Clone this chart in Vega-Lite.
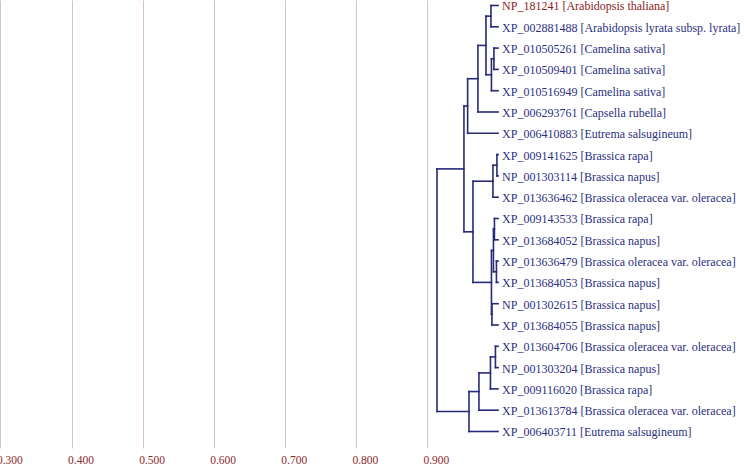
{
  "$schema": "https://vega.github.io/schema/vega-lite/v6.json",
  "width": 744,
  "height": 448,
  "autosize": {"type": "none"},
  "padding": {"left": 0, "top": 0, "right": 0, "bottom": 16},
  "background": "white",
  "config": {"view": {"stroke": null}},
  "datasets": {
    "segments": [
      {"x1": 0.99, "x2": 0.99, "y1": 0, "y2": 1},
      {"x1": 0.9942, "x2": 0.9942, "y1": 2, "y2": 3},
      {"x1": 0.9907, "x2": 0.9907, "y1": 2.5, "y2": 4},
      {"x1": 0.983, "x2": 0.983, "y1": 0.5, "y2": 3.25},
      {"x1": 0.9717, "x2": 0.9717, "y1": 1.875, "y2": 5},
      {"x1": 0.9572, "x2": 0.9572, "y1": 3.4375, "y2": 6},
      {"x1": 0.9984, "x2": 0.9984, "y1": 7, "y2": 8},
      {"x1": 0.9928, "x2": 0.9928, "y1": 7.5, "y2": 9},
      {"x1": 0.9949, "x2": 0.9949, "y1": 10, "y2": 11},
      {"x1": 0.9977, "x2": 0.9977, "y1": 12, "y2": 13},
      {"x1": 0.9935, "x2": 0.9935, "y1": 10.5, "y2": 12.5},
      {"x1": 0.9914, "x2": 0.9914, "y1": 14, "y2": 15},
      {"x1": 0.9907, "x2": 0.9907, "y1": 11.5, "y2": 14.5},
      {"x1": 0.9647, "x2": 0.9647, "y1": 8.25, "y2": 13},
      {"x1": 0.952, "x2": 0.952, "y1": 4.71875, "y2": 10.625},
      {"x1": 0.9963, "x2": 0.9963, "y1": 16, "y2": 17},
      {"x1": 0.9893, "x2": 0.9893, "y1": 16.5, "y2": 18},
      {"x1": 0.9731, "x2": 0.9731, "y1": 17.25, "y2": 19},
      {"x1": 0.9591, "x2": 0.9591, "y1": 18.125, "y2": 20},
      {"x1": 0.9141, "x2": 0.9141, "y1": 7.671875, "y2": 19.0625},
      {"x1": 0.99, "x2": 1, "y1": 0, "y2": 0},
      {"x1": 0.99, "x2": 1, "y1": 1, "y2": 1},
      {"x1": 0.9942, "x2": 1, "y1": 2, "y2": 2},
      {"x1": 0.9942, "x2": 1, "y1": 3, "y2": 3},
      {"x1": 0.9907, "x2": 0.9942, "y1": 2.5, "y2": 2.5},
      {"x1": 0.9907, "x2": 1, "y1": 4, "y2": 4},
      {"x1": 0.983, "x2": 0.99, "y1": 0.5, "y2": 0.5},
      {"x1": 0.983, "x2": 0.9907, "y1": 3.25, "y2": 3.25},
      {"x1": 0.9717, "x2": 0.983, "y1": 1.875, "y2": 1.875},
      {"x1": 0.9717, "x2": 1, "y1": 5, "y2": 5},
      {"x1": 0.9572, "x2": 0.9717, "y1": 3.4375, "y2": 3.4375},
      {"x1": 0.9572, "x2": 1, "y1": 6, "y2": 6},
      {"x1": 0.9984, "x2": 1, "y1": 7, "y2": 7},
      {"x1": 0.9984, "x2": 1, "y1": 8, "y2": 8},
      {"x1": 0.9928, "x2": 0.9984, "y1": 7.5, "y2": 7.5},
      {"x1": 0.9928, "x2": 1, "y1": 9, "y2": 9},
      {"x1": 0.9949, "x2": 1, "y1": 10, "y2": 10},
      {"x1": 0.9949, "x2": 1, "y1": 11, "y2": 11},
      {"x1": 0.9977, "x2": 1, "y1": 12, "y2": 12},
      {"x1": 0.9977, "x2": 1, "y1": 13, "y2": 13},
      {"x1": 0.9935, "x2": 0.9949, "y1": 10.5, "y2": 10.5},
      {"x1": 0.9935, "x2": 0.9977, "y1": 12.5, "y2": 12.5},
      {"x1": 0.9914, "x2": 1, "y1": 14, "y2": 14},
      {"x1": 0.9914, "x2": 1, "y1": 15, "y2": 15},
      {"x1": 0.9907, "x2": 0.9935, "y1": 11.5, "y2": 11.5},
      {"x1": 0.9907, "x2": 0.9914, "y1": 14.5, "y2": 14.5},
      {"x1": 0.9647, "x2": 0.9928, "y1": 8.25, "y2": 8.25},
      {"x1": 0.9647, "x2": 0.9907, "y1": 13, "y2": 13},
      {"x1": 0.952, "x2": 0.9572, "y1": 4.71875, "y2": 4.71875},
      {"x1": 0.952, "x2": 0.9647, "y1": 10.625, "y2": 10.625},
      {"x1": 0.9963, "x2": 1, "y1": 16, "y2": 16},
      {"x1": 0.9963, "x2": 1, "y1": 17, "y2": 17},
      {"x1": 0.9893, "x2": 0.9963, "y1": 16.5, "y2": 16.5},
      {"x1": 0.9893, "x2": 1, "y1": 18, "y2": 18},
      {"x1": 0.9731, "x2": 0.9893, "y1": 17.25, "y2": 17.25},
      {"x1": 0.9731, "x2": 1, "y1": 19, "y2": 19},
      {"x1": 0.9591, "x2": 0.9731, "y1": 18.125, "y2": 18.125},
      {"x1": 0.9591, "x2": 1, "y1": 20, "y2": 20},
      {"x1": 0.9141, "x2": 0.952, "y1": 7.671875, "y2": 7.671875},
      {"x1": 0.9141, "x2": 0.9591, "y1": 19.0625, "y2": 19.0625}
    ],
    "leaves": [
      {"row": 0, "label": "NP_181241 [Arabidopsis thaliana]", "kind": "query"},
      {"row": 1, "label": "XP_002881488 [Arabidopsis lyrata subsp. lyrata]", "kind": "hit"},
      {"row": 2, "label": "XP_010505261 [Camelina sativa]", "kind": "hit"},
      {"row": 3, "label": "XP_010509401 [Camelina sativa]", "kind": "hit"},
      {"row": 4, "label": "XP_010516949 [Camelina sativa]", "kind": "hit"},
      {"row": 5, "label": "XP_006293761 [Capsella rubella]", "kind": "hit"},
      {"row": 6, "label": "XP_006410883 [Eutrema salsugineum]", "kind": "hit"},
      {"row": 7, "label": "XP_009141625 [Brassica rapa]", "kind": "hit"},
      {"row": 8, "label": "NP_001303114 [Brassica napus]", "kind": "hit"},
      {"row": 9, "label": "XP_013636462 [Brassica oleracea var. oleracea]", "kind": "hit"},
      {"row": 10, "label": "XP_009143533 [Brassica rapa]", "kind": "hit"},
      {"row": 11, "label": "XP_013684052 [Brassica napus]", "kind": "hit"},
      {"row": 12, "label": "XP_013636479 [Brassica oleracea var. oleracea]", "kind": "hit"},
      {"row": 13, "label": "XP_013684053 [Brassica napus]", "kind": "hit"},
      {"row": 14, "label": "NP_001302615 [Brassica napus]", "kind": "hit"},
      {"row": 15, "label": "XP_013684055 [Brassica napus]", "kind": "hit"},
      {"row": 16, "label": "XP_013604706 [Brassica oleracea var. oleracea]", "kind": "hit"},
      {"row": 17, "label": "NP_001303204 [Brassica napus]", "kind": "hit"},
      {"row": 18, "label": "XP_009116020 [Brassica rapa]", "kind": "hit"},
      {"row": 19, "label": "XP_013613784 [Brassica oleracea var. oleracea]", "kind": "hit"},
      {"row": 20, "label": "XP_006403711 [Eutrema salsugineum]", "kind": "hit"}
    ]
  },
  "layer": [
    {
      "data": {"name": "segments"},
      "mark": {"type": "rule", "color": "#262a78", "strokeWidth": 1.6, "strokeCap": "square"},
      "encoding": {
        "x": {
          "field": "x1", "type": "quantitative",
          "scale": {"domain": [0.2993, 1.346], "nice": false, "zero": false},
          "axis": {
            "title": null,
            "values": [0.3, 0.4, 0.5, 0.6, 0.7, 0.8, 0.9],
            "format": ".3f",
            "grid": true,
            "gridColor": "#d9c2c6",
            "gridWidth": 1,
            "gridOpacity": 1,
            "domain": false,
            "ticks": false,
            "tickSize": 0,
            "labelPadding": 6,
            "labelAlign": "left",
            "labelOffset": -4,
            "labelFlush": false,
            "labelBound": false,
            "labelOverlap": false,
            "labelColor": "#8b2a2a",
            "labelFont": "Liberation Serif",
            "labelFontSize": 11.5
          }
        },
        "x2": {"field": "x2"},
        "y": {
          "field": "y1", "type": "quantitative",
          "scale": {"domain": [-0.258, 20.775], "nice": false, "zero": false, "reverse": true},
          "axis": null
        },
        "y2": {"field": "y2"}
      }
    },
    {
      "data": {"name": "leaves"},
      "mark": {"type": "text", "align": "left", "baseline": "middle", "dx": 4, "dy": 1, "font": "Liberation Serif", "fontSize": 12},
      "encoding": {
        "x": {"datum": 1, "type": "quantitative"},
        "y": {"field": "row", "type": "quantitative"},
        "text": {"field": "label"},
        "color": {
          "field": "kind", "type": "nominal",
          "scale": {"domain": ["query", "hit"], "range": ["#8b2323", "#2b2f80"]},
          "legend": null
        }
      }
    }
  ]
}
